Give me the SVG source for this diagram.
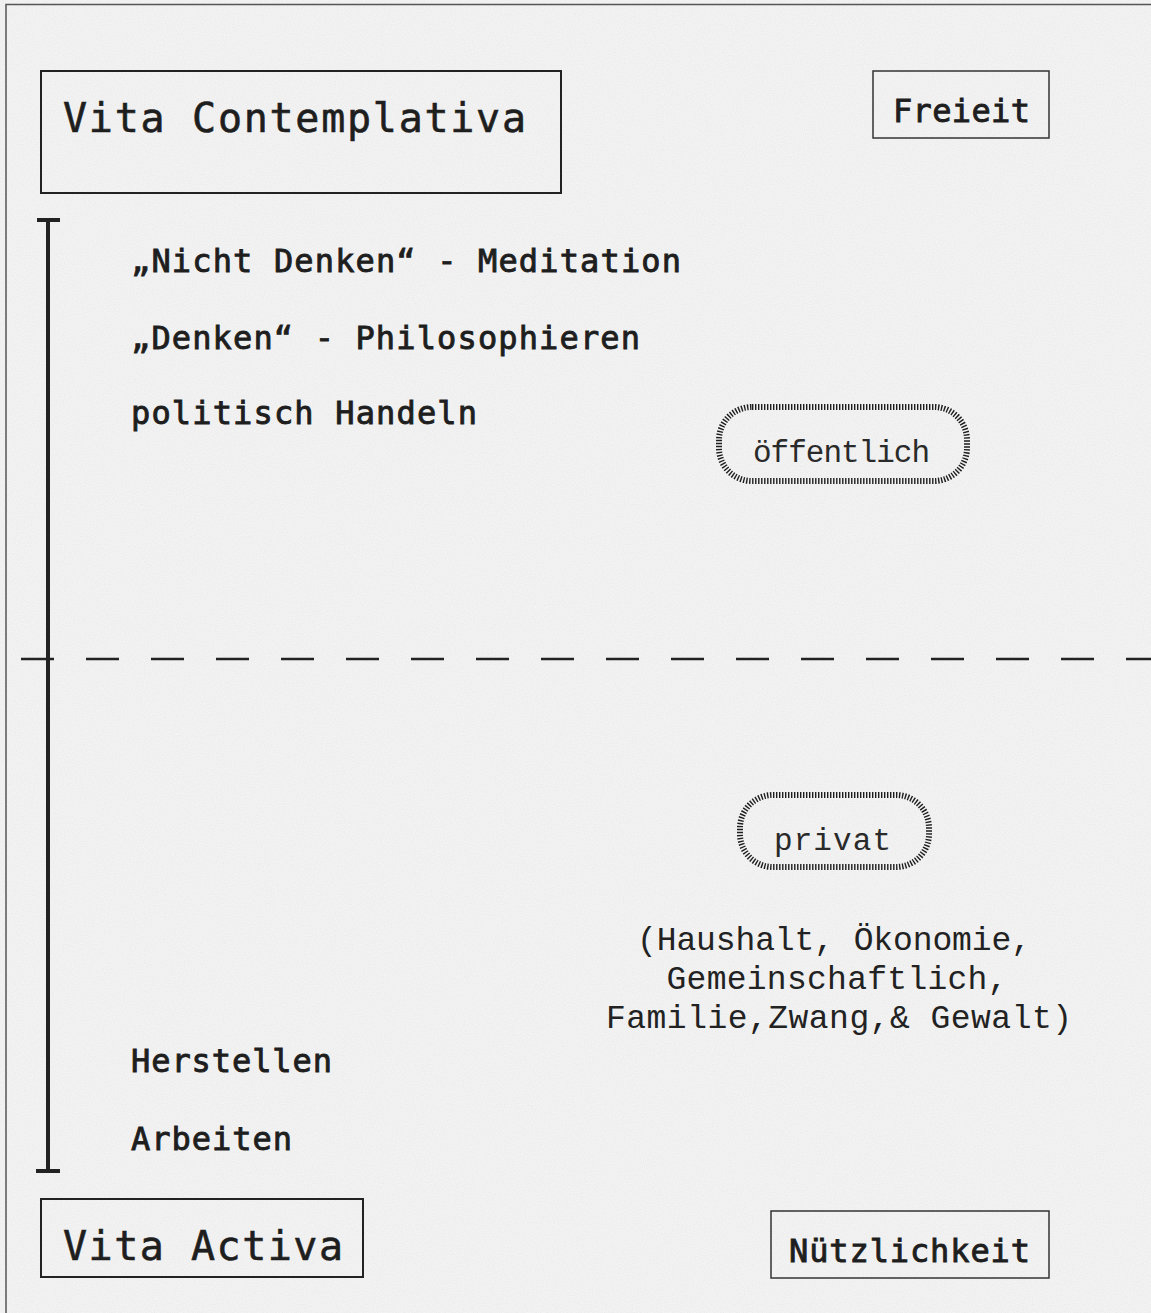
<svg xmlns="http://www.w3.org/2000/svg" width="1151" height="1313" viewBox="0 0 1151 1313">
  <defs>
    <filter id="noise" x="0" y="0" width="100%" height="100%">
      <feTurbulence type="fractalNoise" baseFrequency="0.9" numOctaves="1" seed="3" result="t"/>
      <feColorMatrix type="matrix" values="0 0 0 0 0.55  0 0 0 0 0.55  0 0 0 0 0.55  0 0 0 -1.6 1.05" in="t"/>
    </filter>
    <style>
      .box { fill: none; stroke: #222; stroke-width: 2; }
      .boxThin { fill: none; stroke: #333; stroke-width: 1.5; }
      .title { font-family: "DejaVu Sans Mono", "Liberation Mono", monospace; font-size: 40px; fill: #1e1e1e; stroke: #1e1e1e; stroke-width: 0.6; }
      .lbl { font-family: "DejaVu Sans Mono", "Liberation Mono", monospace; font-size: 32px; fill: #1e1e1e; stroke: #1e1e1e; stroke-width: 0.9; }
      .light { font-family: "Liberation Mono", "DejaVu Sans Mono", monospace; font-size: 31px; fill: #2a2a2a; }
      .note { font-family: "Liberation Mono", "DejaVu Sans Mono", monospace; font-size: 33px; fill: #222; text-anchor: middle; }
      .pill { fill: none; stroke: #1e1e1e; stroke-width: 6; stroke-dasharray: 1.4 1.6; }
      .axis { stroke: #222; stroke-width: 4; fill: none; }
      .divider { stroke: #222; stroke-width: 2.5; stroke-dasharray: 33 32; fill: none; }
    </style>
  </defs>

  <rect width="1151" height="1313" fill="#f3f3f3"/>
  <rect width="1151" height="1313" filter="url(#noise)" opacity="0.22"/>
  <path d="M6 1313 V4.5 H1151" fill="none" stroke="#555" stroke-width="1.5"/>

  <g id="connectors">
    <path class="axis" d="M48 220 V1171 M37 220 H60 M36 1171 H60"/>
    <path class="divider" d="M21 659 H1151"/>
  </g>

  <g id="vita-contemplativa">
    <rect class="box" x="41" y="71" width="520" height="122"/>
    <text class="title" x="63" y="132" textLength="463" lengthAdjust="spacing">Vita Contemplativa</text>
  </g>

  <g id="freiheit">
    <rect class="boxThin" x="873" y="71" width="176" height="67"/>
    <text class="lbl" x="893" y="122" textLength="137" lengthAdjust="spacing">Freieit</text>
  </g>

  <g id="nicht-denken">
    <text class="lbl" x="131" y="272" textLength="550" lengthAdjust="spacing">„Nicht Denken“ - Meditation</text>
  </g>
  <g id="denken">
    <text class="lbl" x="131" y="349" textLength="509" lengthAdjust="spacing">„Denken“ - Philosophieren</text>
  </g>
  <g id="politisch-handeln">
    <text class="lbl" x="131" y="424" textLength="346" lengthAdjust="spacing">politisch Handeln</text>
  </g>

  <g id="oeffentlich">
    <rect class="pill" x="719" y="407" width="248" height="74" rx="33"/>
    <text class="light" x="753" y="462" textLength="177" lengthAdjust="spacing">öffentlich</text>
  </g>

  <g id="privat">
    <rect class="pill" x="740" y="795" width="189" height="72" rx="33"/>
    <text class="light" x="774" y="850" textLength="117" lengthAdjust="spacing">privat</text>
  </g>

  <g id="privat-note">
    <text class="note" x="834" y="950" textLength="394" lengthAdjust="spacing">(Haushalt, Ökonomie,</text>
    <text class="note" x="837" y="989" textLength="341" lengthAdjust="spacing">Gemeinschaftlich,</text>
    <text class="note" x="839" y="1028" textLength="466" lengthAdjust="spacing">Familie,Zwang,&amp; Gewalt)</text>
  </g>

  <g id="herstellen">
    <text class="lbl" x="131" y="1072" textLength="201" lengthAdjust="spacing">Herstellen</text>
  </g>
  <g id="arbeiten">
    <text class="lbl" x="131" y="1150" textLength="161" lengthAdjust="spacing">Arbeiten</text>
  </g>

  <g id="vita-activa">
    <rect class="box" x="41" y="1199" width="322" height="78"/>
    <text class="title" x="63" y="1260" textLength="280" lengthAdjust="spacing">Vita Activa</text>
  </g>

  <g id="nuetzlichkeit">
    <rect class="boxThin" x="771" y="1211" width="278" height="67"/>
    <text class="lbl" x="789" y="1262" textLength="241" lengthAdjust="spacing">Nützlichkeit</text>
  </g>
</svg>
